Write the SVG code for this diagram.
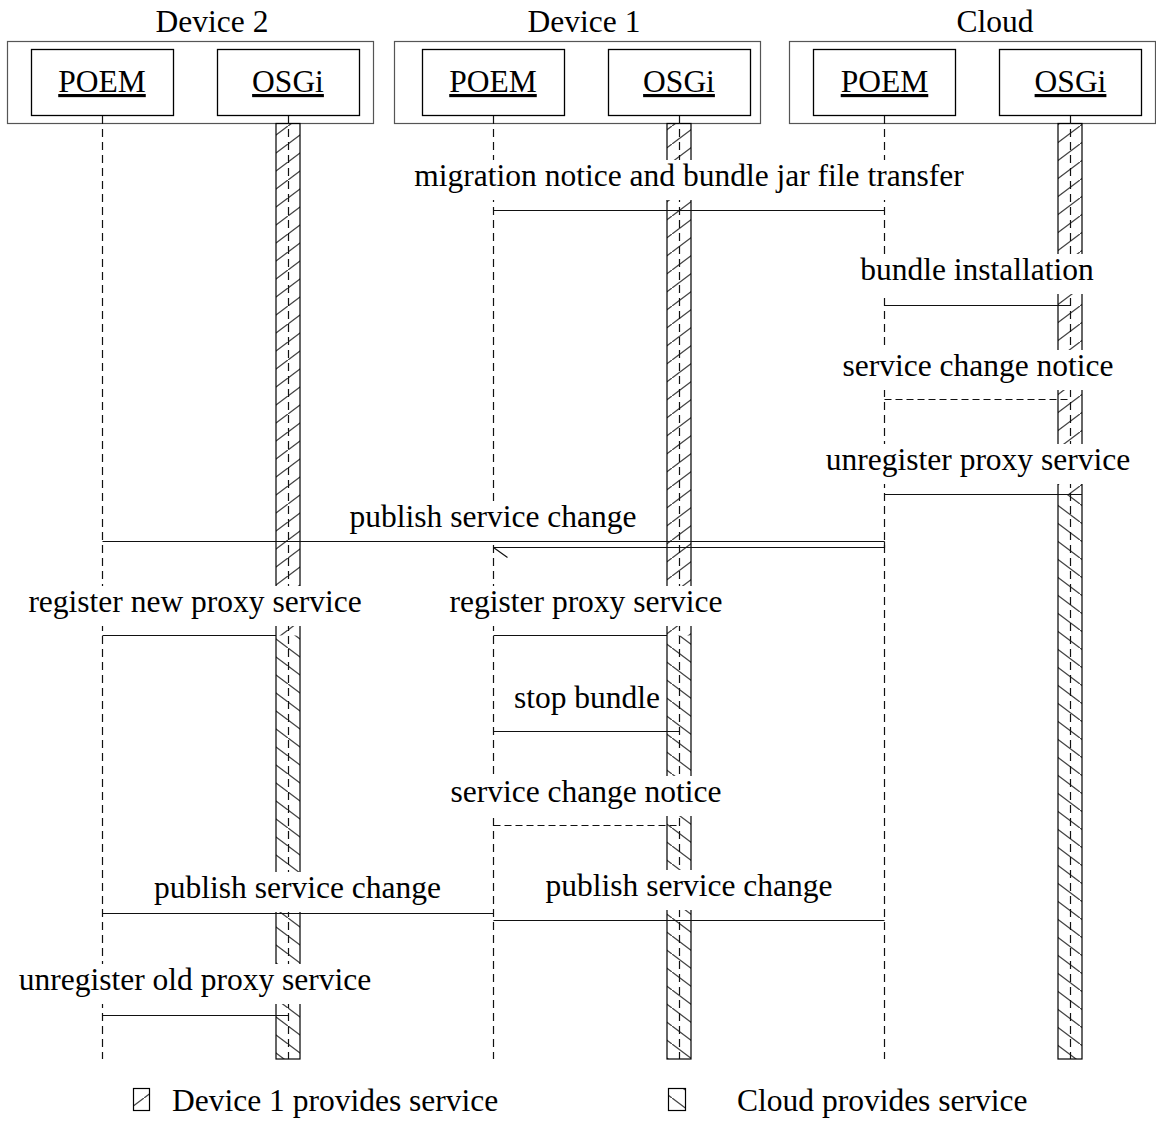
<svg xmlns="http://www.w3.org/2000/svg" width="1156" height="1148" viewBox="0 0 1156 1148">
  <style>
    text { font-family: "Liberation Serif", "Times New Roman", serif; font-size: 31.5px; fill: #000; }
    .c { text-anchor: middle; }
    .u { text-decoration: underline; }
    .outer { fill: #fff; stroke: #555; stroke-width: 1.2; }
    .inner { fill: #fff; stroke: #000; stroke-width: 1.3; }
    .bar { fill: none; stroke: #000; stroke-width: 1.2; }
    .life { stroke: #111; stroke-width: 1.2; stroke-dasharray: 8 5; fill: none; }
    .bg { fill: #fff; }
    .msg { stroke: #111; stroke-width: 1.2; fill: none; }
    .dash { stroke-dasharray: 7 4; }
  </style>
  <defs>
    <!-- forward hatch: Device 1 provides the service -->
    <pattern id="hatchDev1" patternUnits="userSpaceOnUse" width="24" height="18">
      <path d="M-6,22.5 L6,13.5 M0,18 L24,0 M18,4.5 L30,-4.5" stroke="#444" stroke-width="1.3"/>
    </pattern>
    <!-- back hatch: Cloud provides the service -->
    <pattern id="hatchCloud" patternUnits="userSpaceOnUse" width="24" height="18">
      <path d="M-6,-4.5 L6,4.5 M0,0 L24,18 M18,13.5 L30,22.5" stroke="#444" stroke-width="1.3"/>
    </pattern>
  </defs>

  <!-- participants -->
  <g id="device2">
    <rect class="outer" x="7.5" y="41.5" width="366" height="82"/>
    <text class="c" x="212" y="32">Device 2</text>
    <g id="device2-poem">
      <rect class="inner" x="31.5" y="49.5" width="142" height="66"/>
      <text class="c u" x="102" y="92">POEM</text>
    </g>
    <g id="device2-osgi">
      <rect class="inner" x="217.5" y="49.5" width="142" height="66"/>
      <text class="c u" x="288" y="92">OSGi</text>
    </g>
  </g>
  <g id="device1">
    <rect class="outer" x="394.5" y="41.5" width="366" height="82"/>
    <text class="c" x="584" y="32">Device 1</text>
    <g id="device1-poem">
      <rect class="inner" x="422.5" y="49.5" width="142" height="66"/>
      <text class="c u" x="493" y="92">POEM</text>
    </g>
    <g id="device1-osgi">
      <rect class="inner" x="608.5" y="49.5" width="142" height="66"/>
      <text class="c u" x="679" y="92">OSGi</text>
    </g>
  </g>
  <g id="cloud">
    <rect class="outer" x="789.5" y="41.5" width="366" height="82"/>
    <text class="c" x="995" y="32">Cloud</text>
    <g id="cloud-poem">
      <rect class="inner" x="813.5" y="49.5" width="142" height="66"/>
      <text class="c u" x="884.5" y="92">POEM</text>
    </g>
    <g id="cloud-osgi">
      <rect class="inner" x="999.5" y="49.5" width="142" height="66"/>
      <text class="c u" x="1070.5" y="92">OSGi</text>
    </g>
  </g>

  <!-- activation bars, hatched by service provider -->
  <g id="bars">
    <rect x="276" y="123.5" width="24" height="512" fill="url(#hatchDev1)"/>
    <rect x="276" y="635.5" width="24" height="423.5" fill="url(#hatchCloud)"/>
    <rect class="bar" x="276" y="123.5" width="24" height="935.5"/>
    <rect x="667" y="123.5" width="24" height="512" fill="url(#hatchDev1)"/>
    <rect x="667" y="635.5" width="24" height="423.5" fill="url(#hatchCloud)"/>
    <rect class="bar" x="667" y="123.5" width="24" height="935.5"/>
    <rect x="1058" y="123.5" width="24" height="371" fill="url(#hatchDev1)"/>
    <rect x="1058" y="494.5" width="24" height="564.5" fill="url(#hatchCloud)"/>
    <rect class="bar" x="1058" y="123.5" width="24" height="935.5"/>
  </g>

  <!-- lifelines -->
  <g id="lifelines">
    <line class="life" x1="102.5" y1="116" x2="102.5" y2="1059"/>
    <line class="life" x1="288.5" y1="116" x2="288.5" y2="1059"/>
    <line class="life" x1="493.5" y1="116" x2="493.5" y2="1059"/>
    <line class="life" x1="679.5" y1="116" x2="679.5" y2="1059"/>
    <line class="life" x1="884.5" y1="116" x2="884.5" y2="1059"/>
    <line class="life" x1="1070.5" y1="116" x2="1070.5" y2="1059"/>
  </g>

  <!-- label backgrounds -->
  <g id="label-bg" class="bg">
    <rect x="410" y="160" width="558" height="40"/>
    <rect x="856" y="254" width="242" height="40"/>
    <rect x="838" y="350" width="280" height="40"/>
    <rect x="822" y="444" width="312" height="40"/>
    <rect x="346" y="501" width="294" height="39"/>
    <rect x="24" y="586" width="342" height="40"/>
    <rect x="445" y="586" width="282" height="40"/>
    <rect x="509" y="682" width="156" height="40"/>
    <rect x="446" y="776" width="280" height="40"/>
    <rect x="150" y="872" width="295" height="40"/>
    <rect x="542" y="870" width="294" height="40"/>
    <rect x="14" y="964" width="362" height="40"/>
  </g>

  <!-- messages -->
  <g id="connectors">
    <line class="msg" x1="493.5" y1="210.5" x2="884.5" y2="210.5"/>
    <line class="msg" x1="884.5" y1="305.5" x2="1070.5" y2="305.5"/>
    <line class="msg dash" x1="884.5" y1="399.5" x2="1070.5" y2="399.5"/>
    <line class="msg" x1="884.5" y1="494.5" x2="1082" y2="494.5"/>
    <line class="msg" x1="102.5" y1="541.5" x2="884.5" y2="541.5"/>
    <path class="msg" d="M884.5,541.5 V547.5 H493.5 M493.5,547.5 L507.5,557.5"/>
    <line class="msg" x1="102.5" y1="635.5" x2="276" y2="635.5"/>
    <line class="msg" x1="493.5" y1="635.5" x2="667" y2="635.5"/>
    <line class="msg" x1="493.5" y1="731.5" x2="679.5" y2="731.5"/>
    <line class="msg dash" x1="493.5" y1="825.5" x2="679.5" y2="825.5"/>
    <line class="msg" x1="102.5" y1="913.5" x2="493.5" y2="913.5"/>
    <line class="msg" x1="493.5" y1="920.5" x2="884.5" y2="920.5"/>
    <line class="msg" x1="102.5" y1="1015.5" x2="288.5" y2="1015.5"/>
  </g>

  <!-- message labels -->
  <g id="labels">
    <text class="c" x="689" y="186">migration notice and bundle jar file transfer</text>
    <text class="c" x="977" y="280">bundle installation</text>
    <text class="c" x="978" y="376">service change notice</text>
    <text class="c" x="978" y="470">unregister proxy service</text>
    <text class="c" x="493" y="527">publish service change</text>
    <text class="c" x="195" y="612">register new proxy service</text>
    <text class="c" x="586" y="612">register proxy service</text>
    <text class="c" x="587" y="708">stop bundle</text>
    <text class="c" x="586" y="802">service change notice</text>
    <text class="c" x="297.5" y="898">publish service change</text>
    <text class="c" x="689" y="896">publish service change</text>
    <text class="c" x="195" y="990">unregister old proxy service</text>
  </g>

  <!-- legend -->
  <g id="legend">
    <g id="legend-device1">
      <rect x="133.5" y="1088.5" width="16" height="22" fill="url(#hatchDev1)" stroke="#000" stroke-width="1.2"/>
      <text x="172" y="1111">Device 1 provides service</text>
    </g>
    <g id="legend-cloud">
      <rect x="668.5" y="1088.5" width="17" height="22" fill="url(#hatchCloud)" stroke="#000" stroke-width="1.2"/>
      <text x="737" y="1111">Cloud provides service</text>
    </g>
  </g>
</svg>
